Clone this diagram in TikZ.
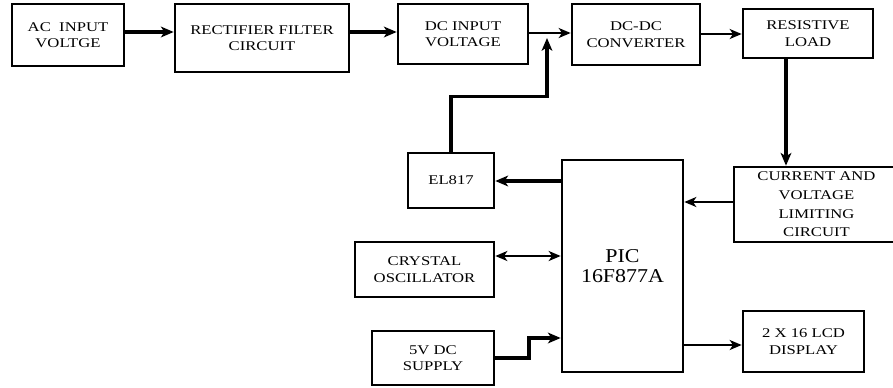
\documentclass[tikz,border=0pt]{standalone}
\usepackage{fontspec}
\setmainfont{Liberation Serif}[FakeStretch=1.25]
\newfontfamily\picfont{Liberation Serif}[FakeStretch=1.12]
\usetikzlibrary{arrows.meta}
\begin{document}
\begin{tikzpicture}[x=0.75pt,y=-0.75pt,
  box/.style={draw, line width=2pt, inner sep=0pt, align=center,
    font=\fontsize{10}{12.4}\selectfont},
  sz/.style 2 args={minimum width=#1*0.75pt, minimum height=#2*0.75pt},
  thk/.style={line width=2.4pt, -{Stealth[length=9.5pt,width=8pt,inset=2.5pt]}},
  thn/.style={line width=1.5pt, -{Stealth[length=9pt,width=7.5pt,inset=2.5pt]}}]
\useasboundingbox (0,0) rectangle (893,387);
% boxes
\node[box, sz={112}{62}] (ac) at (68,35) {AC\ \ INPUT\\VOLTGE};
\node[box, sz={174}{68}] (rect) at (262,38) {RECTIFIER FILTER\\CIRCUIT};
\node[box, sz={130}{60}] (dcin) at (463,34) {DC INPUT\\VOLTAGE};
\node[box, sz={128}{61}] (dcdc) at (636,34.5) {DC-DC\\CONVERTER};
\node[box, sz={130}{49}] (res) at (808,33.5) {RESISTIVE\\LOAD};
\node[box, sz={86}{55}] (el) at (451,180.5) {EL817};
\node[box, sz={121}{212}, font=\picfont\fontsize{14.7}{14.4}\selectfont] (pic) at (622.5,266) {PIC\\16F877A};
\node[box, sz={165}{75}, font=\fontsize{10}{14}\selectfont] (cur) at (816.5,204.5) {CURRENT AND\\VOLTAGE\\LIMITING\\CIRCUIT};
\node[box, sz={139}{55}] (cry) at (424.5,269.5) {CRYSTAL\\OSCILLATOR};
\node[box, sz={122}{54}] (v5) at (433,358) {5V DC\\SUPPLY};
\node[box, sz={121}{61}] (lcd) at (803.5,341.5) {2 X 16 LCD\\DISPLAY};
% connectors
\draw[thk] (ac.east |- 0,32) -- (rect.west |- 0,32);
\draw[thk] (rect.east |- 0,32) -- (dcin.west |- 0,32);
\draw[thn] (dcin.east |- 0,33) -- (dcdc.west |- 0,33);
\draw[thn] (dcdc.east |- 0,34) -- (res.west |- 0,34);
\draw[thk] (res.south -| 786,0) -- (cur.north -| 786,0);
\draw[thn] (cur.west |- 0,202) -- (pic.east |- 0,202);
\draw[thk] (pic.west |- 0,181) -- (el.east |- 0,181);
\coordinate (jn) at (547,38);
\draw[thk] (el.north) -- ++(0,-55) -| (jn);
\draw[line width=1.5pt, {Stealth[length=9pt,width=7.5pt,inset=2.5pt]}-{Stealth[length=9pt,width=7.5pt,inset=2.5pt]}] (cry.east |- 0,256) -- (pic.west |- 0,256);
\draw[thk, line width=2.8pt] (v5.east) -- (529,358) -- (529,338) -- (pic.west |- 0,338);
\draw[thn] (pic.east |- 0,345) -- (lcd.west |- 0,345);
\end{tikzpicture}
\end{document}
